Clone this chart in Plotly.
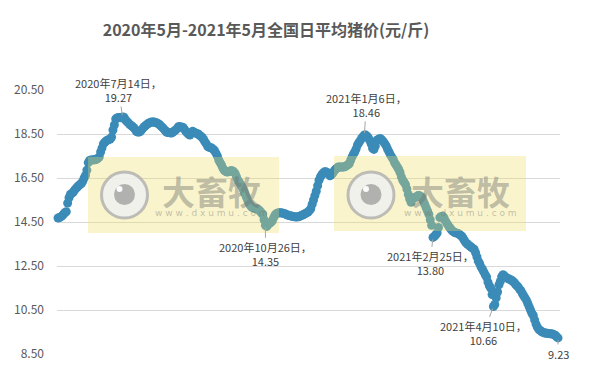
import plotly.graph_objects as go
import pandas as pd

# ---------------- data ----------------
start_date = "2020-05-28"
prices = [
    14.68, 14.70, 14.73, 14.78, 14.86, 14.92, 14.97, 15.36, 15.60, 15.75,
    15.80, 15.85, 15.95, 16.02, 16.09, 16.15, 16.20, 16.25, 16.35, 16.50,
    16.62, 16.86, 17.20, 17.30, 17.32, 17.32, 17.33, 17.33, 17.35, 17.40,
    17.45, 17.68, 17.86, 18.05, 18.12, 18.18, 18.22, 18.25, 18.27, 18.36,
    18.68, 18.91, 19.18, 19.23, 19.25, 19.25, 19.24, 19.27, 19.26, 19.15,
    19.08, 19.02, 18.95, 18.90, 18.85, 18.80, 18.72, 18.62, 18.59, 18.59,
    18.62, 18.70, 18.78, 18.84, 18.90, 18.95, 18.99, 19.02, 19.04, 19.05,
    19.04, 19.02, 19.00, 18.97, 18.92, 18.86, 18.80, 18.73, 18.66, 18.59,
    18.57, 18.56, 18.55, 18.55, 18.60, 18.65, 18.70, 18.78, 18.84, 18.82,
    18.82, 18.80, 18.72, 18.62, 18.55, 18.50, 18.45, 18.55, 18.62, 18.58,
    18.55, 18.52, 18.50, 18.45, 18.40, 18.34, 18.25, 18.14, 18.05, 17.93,
    17.90, 17.88, 17.86, 17.80, 17.74, 17.62, 17.50, 17.32, 17.20, 17.09,
    16.95, 16.85, 16.80, 16.77, 16.78, 16.80, 16.84, 16.82, 16.78, 16.70,
    16.55, 16.40, 16.30, 16.20, 16.10, 15.95, 15.80, 15.65, 15.50, 15.35,
    15.25, 15.18, 15.14, 15.12, 15.10, 15.09, 15.06, 15.00, 14.92, 14.85,
    14.60, 14.35, 14.30, 14.38, 14.45, 14.48, 14.55, 14.70, 14.82, 14.88,
    14.91, 14.92, 14.92, 14.91, 14.90, 14.88, 14.85, 14.82, 14.80, 14.78,
    14.77, 14.75, 14.74, 14.73, 14.73, 14.74, 14.76, 14.79, 14.82, 14.85,
    14.88, 14.92, 14.95, 15.02, 15.10, 15.30, 15.50, 15.70, 15.90, 16.15,
    16.40, 16.55, 16.65, 16.73, 16.78, 16.78, 16.75, 16.68, 16.60, 16.65,
    16.72, 16.82, 16.90, 16.95, 17.00, 17.00, 17.00, 17.00, 17.00, 17.02,
    17.05, 17.10, 17.15, 17.30, 17.45, 17.58, 17.68, 17.82, 18.00, 18.10,
    18.20, 18.30, 18.38, 18.46, 18.45, 18.40, 18.32, 18.20, 18.05, 17.85,
    17.80, 17.95, 18.20, 18.25, 18.28, 18.28, 18.22, 18.14, 18.05, 17.95,
    17.80, 17.68, 17.55, 17.45, 17.35, 17.20, 17.10, 17.00, 16.90, 16.75,
    16.55, 16.40, 16.30, 16.20, 16.00, 15.75, 15.55, 15.40, 15.55, 15.60,
    15.62, 15.64, 15.70, 15.70, 15.66, 15.60, 15.45, 15.30, 15.15, 15.00,
    14.85, 14.60, 14.35, 13.80, 13.85, 13.92, 14.00, 14.25, 14.70, 14.75,
    14.76, 14.70, 14.55, 14.45, 14.35, 14.25, 14.18, 14.10, 14.05, 14.02,
    14.00, 13.98, 13.95, 13.90, 13.85, 13.75, 13.65, 13.55, 13.50, 13.45,
    13.40, 13.35, 13.30, 13.25, 13.10, 12.91, 12.72, 12.60, 12.45, 12.35,
    12.23, 12.10, 12.00, 11.77, 11.60, 11.50, 11.20, 10.66, 10.75, 11.05,
    11.32, 11.64, 11.80, 12.02, 12.10, 12.05, 11.98, 11.95, 11.92, 11.88,
    11.86, 11.82, 11.75, 11.68, 11.60, 11.55, 11.45, 11.38, 11.25, 11.15,
    11.05, 10.95, 10.80, 10.65, 10.50, 10.35, 10.25, 10.05, 9.86, 9.72,
    9.62, 9.57, 9.52, 9.49, 9.46, 9.45, 9.44, 9.43, 9.42, 9.42,
    9.41, 9.38, 9.35, 9.28, 9.23,
]
dates = pd.date_range(start_date, periods=len(prices), freq="D")

label_dates = ["2020-07-14", "2020-10-26", "2021-01-06", "2021-02-25", "2021-04-10", "2021-05-27"]
label_texts = ["2020年7月14日，<br>19.27", "2020年10月26日，<br>14.35", "2021年1月6日，<br>18.46",
               "2021年2月25日，<br>13.80", "2021年4月10日，<br>10.66", "9.23"]
label_values = [19.27, 14.35, 18.46, 13.80, 10.66, 9.23]
label_offsets = [(-4, -27), (0, 29), (2, -30), (-3, 26), (-10, 27), (0, 16)]

y_ticks = [8.5, 10.5, 12.5, 14.5, 16.5, 18.5, 20.5]
y_tick_labels = ["8.50", "10.50", "12.50", "14.50", "16.50", "18.50", "20.50"]

title = "2020年5月-2021年5月全国日平均猪价(元/斤)"

# ---------------- layout helpers ----------------
W, H = 594, 377
L, R, T, B = 57, 560, 90, 354
def px(x):
    return (x - L) / (R - L)
def py(y):
    return (B - y) / (B - T)

FONT = "Noto Sans CJK SC"
BLUE = "#3B8BB8"

fig = go.Figure()
fig.add_trace(go.Scatter(
    x=dates, y=prices, mode="markers",
    marker=dict(size=9, color=BLUE, line=dict(width=0)),
    cliponaxis=False, hoverinfo="skip", showlegend=False,
))

shapes = []
annotations = []

# watermark boxes
for (x0, x1, y0, y1, cx, tx) in [(88, 279, 157, 233, 124.5, 211), (334, 526, 156, 231, 371, 460)]:
    shapes.append(dict(type="rect", xref="paper", yref="paper", layer="above",
                       x0=px(x0), x1=px(x1), y0=py(y1), y1=py(y0),
                       fillcolor="rgba(236,222,100,0.33)", line=dict(width=0)))
    cy = 195
    r = 23
    shapes.append(dict(type="circle", xref="paper", yref="paper", layer="above",
                       x0=px(cx - r), x1=px(cx + r), y0=py(cy + r), y1=py(cy - r),
                       fillcolor="rgba(240,240,240,0.85)",
                       line=dict(color="rgba(170,170,170,0.75)", width=3)))
    r2 = 10.5
    shapes.append(dict(type="circle", xref="paper", yref="paper", layer="above",
                       x0=px(cx - r2), x1=px(cx + r2), y0=py(cy + r2 - 0.5), y1=py(cy - r2 - 0.5),
                       fillcolor="rgba(170,170,170,0.9)", line=dict(width=0)))
    r3 = 3
    shapes.append(dict(type="circle", xref="paper", yref="paper", layer="above",
                       x0=px(cx - 5 - r3), x1=px(cx - 5 + r3), y0=py(cy - 6 + r3), y1=py(cy - 6 - r3),
                       fillcolor="rgba(255,255,255,0.95)", line=dict(width=0)))
    annotations.append(dict(xref="paper", yref="paper", x=px(tx), y=py(191),
                            xanchor="center", yanchor="middle",
                            text="<b>大畜牧</b>", showarrow=False,
                            font=dict(family=FONT, size=33, color="rgba(110,110,110,0.42)")))
    annotations.append(dict(xref="paper", yref="paper", x=px(tx), y=py(213),
                            xanchor="center", yanchor="middle",
                            text="w w w . d x u m u . c o m", showarrow=False,
                            font=dict(family="DejaVu Sans", size=9, color="rgba(110,110,110,0.42)")))

# data labels
for d, v, t, (ax, ay) in zip(label_dates, label_values, label_texts, label_offsets):
    annotations.append(dict(x=d, y=v, xref="x", yref="y", text=t,
                            showarrow=True, arrowhead=0, arrowwidth=1,
                            arrowcolor="#A6A6A6", ax=ax, ay=ay, standoff=2,
                            font=dict(family=FONT, size=11, color="#404040"),
                            align="center"))

fig.update_layout(
    width=W, height=H,
    margin=dict(l=L, r=W - R, t=T, b=H - B, pad=0),
    paper_bgcolor="white", plot_bgcolor="white",
    title=dict(text="<b>" + title + "</b>", x=266 / W, xanchor="center",
               y=1 - 30 / H, yanchor="middle",
               font=dict(family=FONT, size=16, color="#595959")),
    xaxis=dict(range=["2020-05-27 06:00", "2021-05-28 11:00"], showgrid=False,
               zeroline=False, showticklabels=False, showline=False, ticks=""),
    yaxis=dict(range=[8.5, 20.5], tickvals=y_ticks, ticktext=y_tick_labels,
               showgrid=True, gridcolor="#D9D9D9", gridwidth=1, zeroline=False,
               showline=False, ticks="", ticklabelstandoff=12,
               tickfont=dict(family=FONT, size=12, color="#595959")),
    shapes=shapes, annotations=annotations,
    font=dict(family=FONT),
)

fig.write_html("out.html")
